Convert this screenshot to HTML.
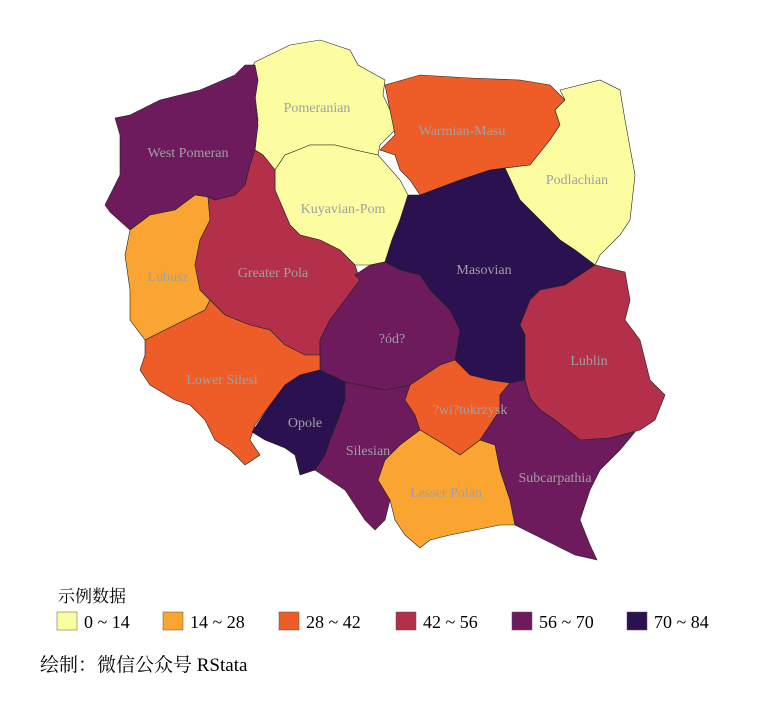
<!DOCTYPE html>
<html><head><meta charset="utf-8"><style>
body{margin:0;background:#fff;}
svg text{font-family:"Liberation Serif","Noto Serif CJK SC",serif;}
</style></head><body>
<svg id="map" width="766" height="714" viewBox="0 0 766 714">
<g id="regions"></g>
<g id="labels"></g>
<text x="58" y="602" font-size="17" fill="#000">示例数据</text>
<g id="legend"></g>
<text x="40" y="671" font-size="19" fill="#000">绘制：微信公众号 RStata</text>
</svg>
<script>
const regionNames=["Pomeranian","West Pomeran","Warmian-Masu","Podlachian","Kuyavian-Pom","Masovian","Lublin","Lubusz","Greater Pola","?ód?","Lower Silesi","Opole","Silesian","?wi?tokrzysk","Lesser Polan","Subcarpathia"];
const regionValues=[5,60,35,8,10,78,50,20,48,62,33,75,65,38,22,58];
const binBreaks=[0,14,28,42,56,70,84];
const binLabels=["0 ~ 14","14 ~ 28","28 ~ 42","42 ~ 56","56 ~ 70","70 ~ 84"];
const binColors=["#FCFDA1","#FAA531","#EE5C28","#B42F49","#6E1B5E","#2B1150"];
const shapes=[
"255,62 290,45 320,40 350,50 358,65 385,80 383,95 390,110 395,130 380,145 378,155 355,150 335,145 310,145 285,155 275,170 263,155 255,150 258,120 255,95 258,80 250,70",
"115,118 130,115 160,100 200,90 235,75 245,65 255,65 258,80 255,100 258,125 255,150 250,165 245,185 235,195 215,200 208,197 195,195 175,210 150,215 130,230 110,212 105,205 120,175 120,135",
"385,85 420,75 470,78 520,80 550,85 565,100 555,110 560,125 550,140 530,165 505,168 490,170 460,180 420,195 410,180 400,170 395,155 380,150 395,135 390,110",
"560,90 600,80 620,90 625,120 635,175 630,220 620,235 600,255 595,265 575,250 560,240 540,220 520,200 505,168 530,165 550,140 560,125 555,110 565,100",
"285,155 310,145 335,145 355,150 378,155 400,180 408,195 400,220 392,240 385,262 370,265 355,265 340,250 320,240 300,235 290,225 275,190 275,170",
"408,195 420,195 460,180 490,170 505,168 520,200 540,220 560,240 575,250 595,265 565,285 540,290 530,300 520,325 525,335 525,380 510,383 490,380 470,375 455,360 460,330 450,310 430,290 420,275 400,270 385,262 392,240 400,220",
"530,300 540,290 565,285 595,265 625,272 630,300 625,320 640,340 650,380 665,395 655,420 640,430 610,438 580,440 555,420 540,410 530,398 525,380 525,335 520,325",
"130,230 150,215 175,210 195,195 208,197 210,220 200,240 195,265 200,290 210,300 205,310 185,320 165,330 145,340 130,320 130,290 125,255",
"208,197 215,200 235,195 245,185 250,165 255,150 263,155 275,170 275,190 290,225 300,235 320,240 340,250 355,265 360,280 345,300 330,320 320,340 320,355 305,355 285,345 270,330 250,325 225,315 210,300 200,290 195,265 200,240 210,220",
"355,275 370,265 385,262 400,270 420,275 430,290 450,310 460,330 455,360 440,365 425,375 410,385 385,390 360,385 345,382 320,370 320,340 330,320 345,300 360,280",
"145,340 165,330 185,320 205,310 210,300 225,315 250,325 270,330 285,345 305,355 320,355 320,370 300,375 285,385 270,405 255,425 250,440 260,455 245,465 230,450 215,440 205,420 190,405 175,400 150,385 140,370 145,355",
"285,385 300,375 320,370 345,382 345,400 338,420 330,440 325,455 315,470 300,475 295,455 285,448 265,440 252,432 260,420 270,405",
"345,382 360,385 385,390 410,385 405,400 415,415 420,430 400,445 385,460 378,480 390,500 385,520 375,530 365,520 355,505 345,490 330,480 315,470 325,455 330,440 338,420 345,400",
"410,385 425,375 440,365 455,360 470,375 490,380 510,383 500,395 500,410 490,425 480,440 460,455 445,445 420,430 415,415 405,400",
"378,480 385,460 400,445 420,430 445,445 460,455 480,440 495,445 500,470 510,500 515,525 500,525 475,530 450,535 430,540 420,548 405,535 395,520 390,500",
"490,425 500,410 500,395 510,383 525,380 530,398 540,410 555,420 580,440 610,438 635,432 620,450 600,470 590,490 580,520 590,545 597,560 575,555 555,545 535,535 515,525 510,500 500,470 495,445 480,440"
];
const labelPos=[[317,107],[188,152],[462,130],[577,179],[343,208],[484,269],[589,360],[168,276],[273,272],[392,338],[222,379],[305,422],[368,450],[470,409],[446,492],[555,477]];
function binIndex(v){for(let i=0;i<binBreaks.length-1;i++){if(v<=binBreaks[i+1])return i;}return binColors.length-1;}
const NS="http://www.w3.org/2000/svg";
const gR=document.getElementById('regions'),gL=document.getElementById('labels'),gG=document.getElementById('legend');
regionNames.forEach((n,i)=>{
 const p=document.createElementNS(NS,'polygon');
 p.setAttribute('points',shapes[i]);
 p.setAttribute('fill',binColors[binIndex(regionValues[i])]);
 p.setAttribute('stroke','#222');p.setAttribute('stroke-width','0.6');
 
 
 gR.appendChild(p);
 const t=document.createElementNS(NS,'text');
 t.setAttribute('x',labelPos[i][0]);t.setAttribute('y',labelPos[i][1]+5);
 t.setAttribute('text-anchor','middle');t.setAttribute('font-size','14');t.setAttribute('fill','#a0a0a0');
 t.textContent=n;
 
 
 gL.appendChild(t);
});
const legX=[57,163,279,396,512,627];
binLabels.forEach((l,i)=>{
 const r=document.createElementNS(NS,'rect');
 r.setAttribute('x',legX[i]);r.setAttribute('y',612);r.setAttribute('width',20);r.setAttribute('height',18);
 r.setAttribute('fill',binColors[i]);r.setAttribute('stroke','#555');r.setAttribute('stroke-width','0.5');
 
 
 gG.appendChild(r);
 const t=document.createElementNS(NS,'text');
 t.setAttribute('x',legX[i]+27);t.setAttribute('y',628);t.setAttribute('font-size','18');t.setAttribute('fill','#000');
 t.textContent=l;
 
 
 gG.appendChild(t);
});
</script>
</body></html>
